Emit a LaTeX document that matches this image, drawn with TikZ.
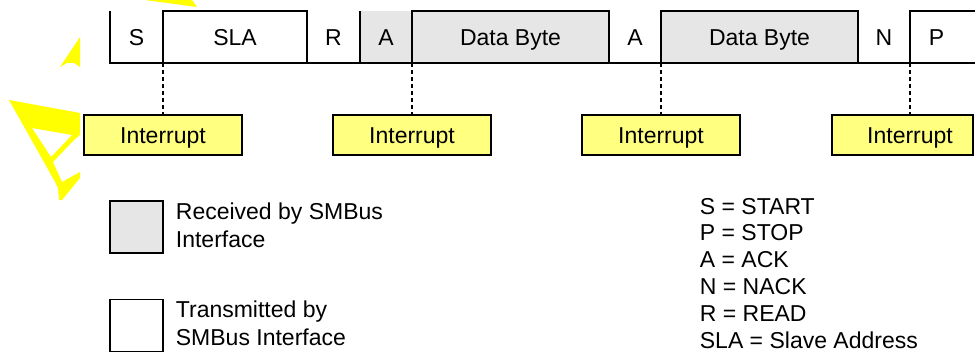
\documentclass[tikz,border=0pt]{standalone}
\usepackage{fontspec}
\setmainfont{Liberation Sans}
\usetikzlibrary{positioning}
\definecolor{rxgray}{RGB}{230,230,230}
\definecolor{intyellow}{RGB}{255,255,128}
\definecolor{wmyellow}{RGB}{255,255,0}
\tikzset{
    cell/.style={anchor=north west, minimum height=52pt, inner sep=0pt, outer sep=0pt, text height=16.5pt, text depth=0pt},
    bytecell/.style={cell, draw, fill=rxgray},
    intbox/.style={draw, fill=intyellow, minimum width=158pt, minimum height=40pt, inner sep=0pt, outer sep=0pt, text height=16.5pt, text depth=0pt},
    keybox/.style={draw, minimum width=53pt, minimum height=52pt, inner sep=0pt, outer sep=0pt},
    keytext/.style={anchor=base west, align=left, inner sep=0pt},
    irqline/.style={dash pattern=on 4pt off 3pt},
}

\begin{document}
\begin{tikzpicture}[x=1pt, y=-1pt, line width=1.8pt, every node/.style={font=\fontsize{23}{27.6}\selectfont}]
\useasboundingbox (0,0) rectangle (975,353);
\clip (0,0) rectangle (975,353);
% watermark pieces
\fill[wmyellow] (145,0) -- (192,0) -- (197,7) -- cycle;
\fill[wmyellow] (80,37) -- (80,67) -- (74,63) -- (67,63) -- (60,67) -- cycle;
\fill[wmyellow, even odd rule] (9,100) -- (80,113) -- (80,135) -- (74,140) -- (53,162) -- (62,182) -- (80,172) -- (80,178) -- (62,200) -- (59,200) -- (58,188) -- (54,180) -- cycle
    (32,128) -- (72,135) -- (51,157) -- cycle;
% bit cells
\node[cell, minimum width=53pt] (s) at (110,11) {S};
\node[cell, minimum width=53pt] (r) at (307,11) {R};
\node[cell, fill=rxgray, minimum width=52pt] (ack1) at (360,11) {A};
\node[cell, minimum width=52pt] (ack2) at (609,11) {A};
\node[cell, minimum width=52pt] (n) at (858,11) {N};
\node[cell, minimum width=53pt] (p) at (910,11) {P};
% byte cells
\node[cell, draw, minimum width=144pt] (sla) at (163,11) {SLA};
\node[bytecell, minimum width=197pt] (db1) at (412,11) {Data Byte};
\node[bytecell, minimum width=197pt] (db2) at (661,11) {Data Byte};
% bus lines
\draw (s.north west) -- (s.south west) -- ++(865,0);
\draw (ack1.north west) -- (ack1.south west);
\draw (p.south west) -- (p.north west) -- ++(65,0);
% interrupts
\node[intbox] (int1) at (163,135) {Interrupt};
\node[intbox] (int2) at (412,135) {Interrupt};
\node[intbox] (int3) at (661,135) {Interrupt};
\node[intbox, minimum width=141pt] (int4) at (902.5,135) {\hspace*{15pt}Interrupt};
\draw[irqline] (sla.south west) -- (int1.north);
\draw[irqline] (db1.south west) -- (int2.north);
\draw[irqline] (db2.south west) -- (int3.north);
\draw[irqline] (p.south west) -- (p.south west |- int4.north);
% legend
\node[keybox, fill=rxgray] (recv) at (136.5,227) {};
\node[keytext] (recvtext) at (175,247) {Received by SMBus\\Interface};
\node[keybox] (sent) at (136.5,325.5) {};
\node[keytext] (senttext) at (175,345) {Transmitted by\\SMBus Interface};
\node[keytext, font=\fontsize{23}{26.8}\selectfont] (abbr) at (699,348) {S = START\\P = STOP\\A = ACK\\N = NACK\\R = READ\\SLA = Slave Address};
\end{tikzpicture}
\end{document}
